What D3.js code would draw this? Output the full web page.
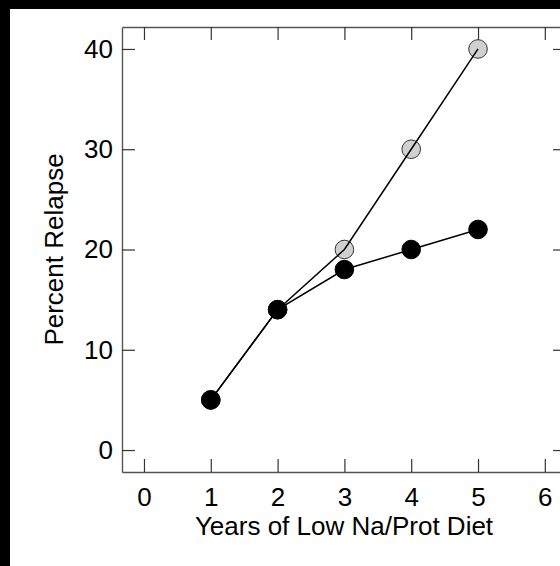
<!DOCTYPE html>
<html>
<head>
<meta charset="utf-8">
<script src="https://cdn.jsdelivr.net/npm/d3@7"></script>
<style>
  html, body { margin: 0; padding: 0; background: #fff; }
  svg { display: block; }
  text { font-family: "Liberation Sans", Arial, sans-serif; fill: #000; }
</style>
</head>
<body>
<svg id="chart" width="560" height="566"></svg>
<script>
// Relapse rate by years on a low sodium / protein diet
const years = [1, 2, 3, 4, 5];
const relapseAll = [5, 14, 20, 30, 40];      // grey markers
const relapseDiet = [5, 14, 18, 20, 22];     // black markers
const xTicks = [0, 1, 2, 3, 4, 5, 6];
const yTicks = [0, 10, 20, 30, 40];

const svg = d3.select("#chart");
const W = 560, H = 566;

// frame of the plotting region (the right edge runs just past the page)
const frame = { left: 122, right: 566, top: 27, bottom: 472 };

const x = d3.scaleLinear().domain([-0.329, 6.317]).range([frame.left, frame.right]);
const y = d3.scaleLinear().domain([-2.19, 42.19]).range([frame.bottom, frame.top]);

svg.append("rect").attr("width", W).attr("height", H).attr("fill", "#fff");
// dark margins along the top and left edges
svg.append("rect").attr("x", 0).attr("y", 0).attr("width", W).attr("height", 9).attr("fill", "#000");
svg.append("rect").attr("x", 0).attr("y", 0).attr("width", 10).attr("height", H).attr("fill", "#000");

const axisColor = "#555";
const tickLen = 13;
const fontSize = "26px";

function styleAxis(g) {
  g.select(".domain").attr("stroke", axisColor).attr("stroke-width", 1.4);
  g.selectAll(".tick line").attr("stroke", "#333").attr("stroke-width", 1.2);
  g.selectAll(".tick text")
    .style("font-family", '"Liberation Sans", Arial, sans-serif')
    .style("font-size", fontSize).attr("fill", "#000");
}

// bottom axis, ticks pointing inward
svg.append("g").attr("transform", `translate(0,${frame.bottom})`)
  .call(d3.axisBottom(x).tickValues(xTicks).tickFormat(d3.format("d"))
        .tickSizeInner(-tickLen).tickSizeOuter(0).tickPadding(tickLen + 3))
  .call(styleAxis);

// top axis, no labels
svg.append("g").attr("transform", `translate(0,${frame.top})`)
  .call(d3.axisTop(x).tickValues(xTicks).tickFormat("")
        .tickSizeInner(-tickLen).tickSizeOuter(0))
  .call(styleAxis);

// left axis
svg.append("g").attr("transform", `translate(${frame.left},0)`)
  .call(d3.axisLeft(y).tickValues(yTicks).tickFormat(d3.format("d"))
        .tickSizeInner(-tickLen).tickSizeOuter(0).tickPadding(9))
  .call(styleAxis);

// right axis, no labels
svg.append("g").attr("transform", `translate(${frame.right},0)`)
  .call(d3.axisRight(y).tickValues(yTicks).tickFormat("")
        .tickSizeInner(-tickLen).tickSizeOuter(0))
  .call(styleAxis);

// axis titles
svg.append("text")
  .attr("x", (frame.left + frame.right) / 2).attr("y", 535)
  .attr("text-anchor", "middle").style("font-size", fontSize)
  .text("Years of Low Na/Prot Diet");

svg.append("text")
  .attr("transform", `translate(63,${(frame.top + frame.bottom) / 2}) rotate(-90)`)
  .attr("text-anchor", "middle").style("font-size", fontSize)
  .text("Percent Relapse");

const allPts = years.map((d, i) => ({ x: d, y: relapseAll[i] }));
const dietPts = years.map((d, i) => ({ x: d, y: relapseDiet[i] }));

const r = 9.3;
svg.append("g").selectAll("circle").data(allPts).join("circle")
  .attr("cx", d => x(d.x)).attr("cy", d => y(d.y)).attr("r", r)
  .attr("fill", "#d0d0d0").attr("stroke", "#333").attr("stroke-width", 1);

svg.append("g").selectAll("circle").data(dietPts).join("circle")
  .attr("cx", d => x(d.x)).attr("cy", d => y(d.y)).attr("r", r)
  .attr("fill", "#000").attr("stroke", "#000").attr("stroke-width", 1);

const line = d3.line().x(d => x(d.x)).y(d => y(d.y));
[allPts, dietPts].forEach(pts => {
  svg.append("path").datum(pts).attr("d", line)
    .attr("fill", "none").attr("stroke", "#000").attr("stroke-width", 1.5);
});
</script>
</body>
</html>
